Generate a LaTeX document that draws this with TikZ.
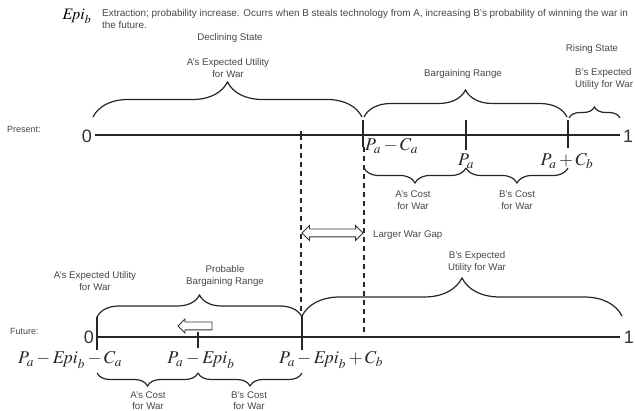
\documentclass[tikz,border=0pt]{standalone}
\usepackage{mathptmx}
\usepackage{fontspec}
\setmainfont{Liberation Sans}
\usetikzlibrary{decorations.pathreplacing,shapes.arrows}

\begin{document}
\begin{tikzpicture}[x=1pt,y=-1pt,
  lbl/.style={font=\fontsize{9.7}{11.5}\selectfont, text=black!72, align=center, inner sep=0pt},
  rowlbl/.style={font=\fontsize{9}{10}\selectfont, text=black!72, inner sep=0pt, anchor=west},
  axis/.style={line width=1.4pt, draw=black!85},
  tickmark/.style={line width=1.3pt, draw=black!85},
  gapline/.style={line width=1.2pt, draw=black!85, dash pattern=on 5pt off 4pt},
  brc/.style={decorate, decoration={brace, amplitude=#1}, line width=1.2pt, draw=black!85},
  mth/.style={font=\fontsize{18}{20}\selectfont, inner sep=0pt, text=black!85},
  endlbl/.style={font=\fontsize{18}{20}\selectfont, inner sep=0pt, text=black!80},
  hollow/.style={draw=black!80, line width=0.9pt, fill=white, inner sep=0pt, inner ysep=3.5pt}
]
\useasboundingbox (0,0) rectangle (635,411);

% ---------- heading ----------
\node[font=\fontsize{16}{18}\selectfont, inner sep=0pt] (epi) at (77,16) {$\mathit{Epi}_b$};
\node[lbl, anchor=west, font=\fontsize{9.9}{11.5}\selectfont] (note1) at (102,14) {Extraction; probability increase. Ocurrs when B steals technology from A, increasing B's probability of winning the war in};
\node[lbl, anchor=west, font=\fontsize{9.9}{11.5}\selectfont] (note2) at (102,25) {the future.};

% ---------- present ----------
\coordinate (pL) at (95,135);
\coordinate (pR) at (620,135);
\node[rowlbl] (present) at (7,129) {Present:};
\node[endlbl] (zeroP) at (87,136) {0};
\node[endlbl] (oneP) at (628,136) {1};
\draw[axis] (pL) -- (pR);

\coordinate (tA1) at (363,120); \coordinate (tA2) at (363,147);
\coordinate (tB1) at (466,120); \coordinate (tB2) at (466,150);
\coordinate (tC1) at (568,120); \coordinate (tC2) at (568,148);
\coordinate (tS1) at (301,131); \coordinate (tS2) at (301,139);
\draw[tickmark] (tA1) -- (tA2);
\draw[tickmark] (tB1) -- (tB2);
\draw[tickmark] (tC1) -- (tC2);
\draw[tickmark] (tS1) -- (tS2);

% upper braces
\coordinate (bA1) at (93,117);  \coordinate (bA2) at (362,117);
\coordinate (bB1) at (364,117); \coordinate (bB2) at (567,117);
\coordinate (bC1) at (569,118); \coordinate (bC2) at (620,118);
\draw[brc=35] (bA1) -- (bA2);
\draw[brc=27] (bB1) -- (bB2);
\draw[brc=11] (bC1) -- (bC2);

\node[lbl] (declining) at (230,38) {Declining State};
\node[lbl] (aUtil) at (228,68) {A's Expected Utility\\for War};
\node[lbl] (bargain) at (463,74) {Bargaining Range};
\node[lbl] (rising) at (592,49) {Rising State};
\node[lbl, anchor=west, align=left] (bUtilP) at (575,79) {B's Expected\\Utility for War};

% points on the present line
\node[mth, anchor=west] (pmc) at (365,146) {$P_a - C_a$};
\node[mth] (pa) at (466,161) {$P_a$};
\node[mth] (ppc) at (567,161) {$P_a + C_b$};

% lower braces
\coordinate (cA1) at (466,168); \coordinate (cA2) at (364,168);
\coordinate (cB1) at (568,168); \coordinate (cB2) at (466,168);
\draw[brc=15] (cA1) -- (cA2);
\draw[brc=15] (cB1) -- (cB2);
\node[lbl] (aCostP) at (413,200) {A's Cost\\for War};
\node[lbl] (bCostP) at (517,200) {B's Cost\\for War};

% ---------- gap between the two ranges ----------
\coordinate (d1a) at (301,135); \coordinate (d1b) at (301,315);
\coordinate (d2a) at (364,147); \coordinate (d2b) at (364,337);
\draw[gapline] (d1a) -- (d1b);
\draw[gapline] (d2a) -- (d2b);
\node[hollow, double arrow, minimum height=61pt, double arrow head extend=3.5pt] (gapArrow) at (332.5,233) {};
\node[lbl, anchor=west] (gapLbl) at (373,235) {Larger War Gap};

% ---------- future ----------
\coordinate (fL) at (97,337);
\coordinate (fR) at (620,337);
\node[rowlbl] (future) at (10,331) {Future:};
\node[endlbl] (zeroF) at (89,337) {0};
\node[endlbl] (oneF) at (629,337) {1};
\draw[axis] (fL) -- (fR);

\coordinate (fA1) at (97,317);  \coordinate (fA2) at (97,350);
\coordinate (fB1) at (198,332); \coordinate (fB2) at (198,348);
\coordinate (fC1) at (302,315); \coordinate (fC2) at (302,350);
\draw[tickmark] (fA1) -- (fA2);
\draw[tickmark] (fB1) -- (fB2);
\draw[tickmark] (fC1) -- (fC2);

% upper braces
\coordinate (gA1) at (97,317);  \coordinate (gA2) at (302,317);
\coordinate (gB1) at (302,316); \coordinate (gB2) at (622,316);
\draw[brc=22] (gA1) -- (gA2);
\draw[brc=38] (gB1) -- (gB2);
\node[lbl] (aUtilF) at (95,281) {A's Expected Utility\\for War};
\node[lbl] (probable) at (225,276) {Probable\\Bargaining Range};
\node[lbl] (bUtilF) at (477,262) {B's Expected\\Utility for War};

\node[hollow, single arrow, minimum height=34pt, single arrow head extend=3pt, shape border rotate=180] (shiftArrow) at (197,326) {};

% points on the future line
\node[mth] (fpmc) at (70,360) {$P_a - \mathit{Epi}_b - C_a$};
\node[mth] (fpa) at (201,360) {$P_a - \mathit{Epi}_b$};
\node[mth] (fppc) at (331,360) {$P_a - \mathit{Epi}_b + C_b$};

% lower braces
\coordinate (hA1) at (198,373); \coordinate (hA2) at (97,373);
\coordinate (hB1) at (302,373); \coordinate (hB2) at (198,373);
\draw[brc=13] (hA1) -- (hA2);
\draw[brc=13] (hB1) -- (hB2);
\node[lbl] (aCostF) at (148,400.5) {A's Cost\\for War};
\node[lbl] (bCostF) at (249,400.5) {B's Cost\\for War};
\end{tikzpicture}
\end{document}
